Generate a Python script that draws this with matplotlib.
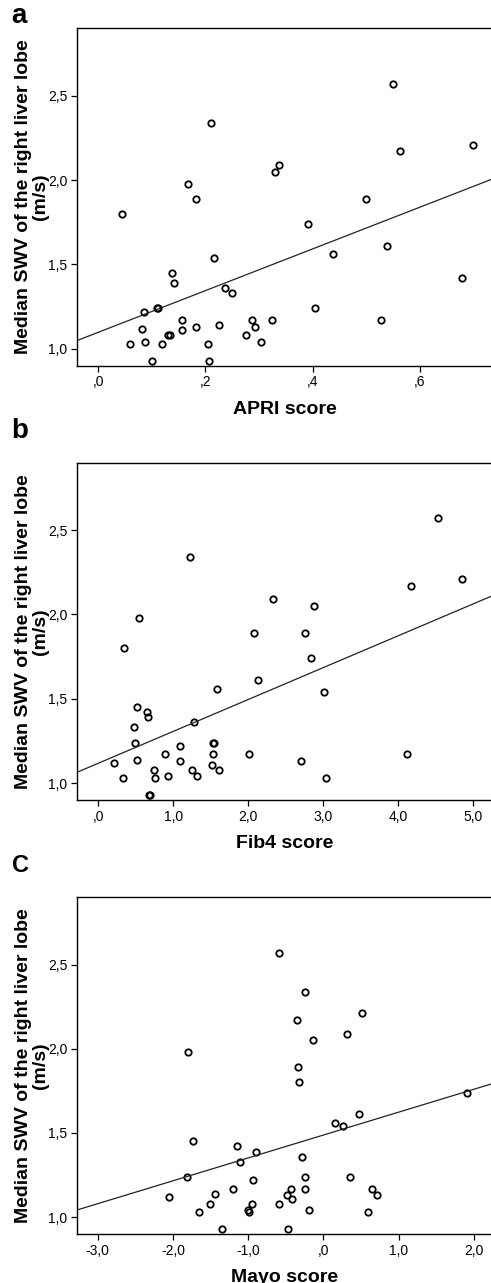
import numpy as np
import matplotlib
matplotlib.use("Agg")
import matplotlib.pyplot as plt

plt.rcParams['font.family'] = ['Liberation Sans', 'DejaVu Sans']

# Общая ось Y: медианная скорость сдвиговой волны (м/с)
y_ticks = [1.0, 1.5, 2.0, 2.5]
y_tick_labels = ["1,0", "1,5", "2,0", "2,5"]
y_lim = (0.9, 2.9)

# --- Панель a: APRI ---
apri_x = [0.045, 0.059, 0.081, 0.086, 0.088, 0.101, 0.110, 0.112, 0.119, 0.131, 0.134,
          0.137, 0.142, 0.157, 0.157, 0.167, 0.182, 0.183, 0.205, 0.206, 0.210, 0.215,
          0.226, 0.236, 0.249, 0.276, 0.286, 0.293, 0.303, 0.324, 0.330, 0.338, 0.392,
          0.404, 0.437, 0.499, 0.527, 0.539, 0.549, 0.563, 0.678, 0.700]
apri_y = [1.80, 1.03, 1.12, 1.22, 1.04, 0.93, 1.24, 1.24, 1.03, 1.08, 1.08,
          1.45, 1.39, 1.17, 1.11, 1.98, 1.89, 1.13, 1.03, 0.93, 2.34, 1.54,
          1.14, 1.36, 1.33, 1.08, 1.17, 1.13, 1.04, 1.17, 2.05, 2.09, 1.74,
          1.24, 1.56, 1.89, 1.17, 1.61, 2.57, 2.17, 1.42, 2.21]
apri_fit = (1.098, 1.236)  # intercept, slope
apri_ticks = [0.0, 0.2, 0.4, 0.6]
apri_tick_labels = [",0", ",2", ",4", ",6"]
apri_lim = (-0.0397, 0.7364)

# --- Панель b: Fib4 ---
fib4_x = [0.213, 0.329, 0.338, 0.476, 0.484, 0.511, 0.520, 0.538, 0.644, 0.658, 0.671,
          0.684, 0.742, 0.760, 0.889, 0.924, 1.084, 1.084, 1.227, 1.253, 1.271, 1.316,
          1.520, 1.524, 1.524, 1.547, 1.578, 1.609, 2.004, 2.071, 2.133, 2.329, 2.707,
          2.751, 2.831, 2.880, 3.004, 3.036, 4.111, 4.169, 4.524, 4.849]
fib4_y = [1.12, 1.03, 1.80, 1.33, 1.24, 1.45, 1.14, 1.98, 1.42, 1.39, 0.93,
          0.93, 1.08, 1.03, 1.17, 1.04, 1.22, 1.13, 2.34, 1.08, 1.36, 1.04,
          1.11, 1.17, 1.24, 1.24, 1.56, 1.08, 1.17, 1.89, 1.61, 2.09, 1.13,
          1.89, 1.74, 2.05, 1.54, 1.03, 1.17, 2.17, 2.57, 2.21]
fib4_fit = (1.118, 0.189)
fib4_ticks = [0.0, 1.0, 2.0, 3.0, 4.0, 5.0]
fib4_tick_labels = [",0", "1,0", "2,0", "3,0", "4,0", "5,0"]
fib4_lim = (-0.284, 5.263)

# --- Панель C: Mayo ---
mayo_x = [-2.049, -1.819, -1.805, -1.735, -1.659, -1.513, -1.438, -1.345, -1.199, -1.146,
          -1.111, -1.009, -0.987, -0.951, -0.934, -0.894, -0.593, -0.588, -0.491, -0.478,
          -0.429, -0.425, -0.358, -0.345, -0.332, -0.292, -0.248, -0.248, -0.248, -0.186,
          -0.146, 0.159, 0.261, 0.314, 0.358, 0.473, 0.513, 0.593, 0.642, 0.717, 1.907]
mayo_y = [1.12, 1.24, 1.98, 1.45, 1.03, 1.08, 1.14, 0.93, 1.17, 1.42,
          1.33, 1.04, 1.03, 1.08, 1.22, 1.39, 2.57, 1.08, 1.13, 0.93,
          1.17, 1.11, 2.17, 1.89, 1.80, 1.36, 2.34, 1.24, 1.17, 1.04,
          2.05, 1.56, 1.54, 2.09, 1.24, 1.61, 2.21, 1.03, 1.17, 1.13, 1.74]
mayo_fit = (1.488, 0.136)
mayo_ticks = [-3.0, -2.0, -1.0, 0.0, 1.0, 2.0]
mayo_tick_labels = ["-3,0", "-2,0", "-1,0", ",0", "1,0", "2,0"]
mayo_lim = (-3.275, 2.252)

y_label = "Median SWV of the right liver lobe\n(m/s)"


def draw_panel(ax, x, y, fit, xlim, xticks, xtick_labels, xlabel):
    ax.plot(x, y, linestyle='none', marker='o', markersize=4.6,
            markerfacecolor='none', markeredgecolor='black', markeredgewidth=1.3)
    # линия регрессии по всей ширине осей
    xl = np.array(xlim)
    ax.plot(xl, fit[0] + fit[1] * xl, color='#222222', linewidth=0.9)

    ax.set_xlim(*xlim)
    ax.set_ylim(*y_lim)
    ax.set_xticks(xticks)
    ax.set_xticklabels(xtick_labels)
    ax.set_yticks(y_ticks)
    ax.set_yticklabels(y_tick_labels)
    ax.tick_params(direction='out', length=4, width=0.9, labelsize=10, pad=3)

    for side in ['left', 'top', 'bottom']:
        ax.spines[side].set_linewidth(1.0)
        ax.spines[side].set_color('black')
    ax.spines['right'].set_visible(False)

    ax.set_xlabel(xlabel, fontsize=14, fontweight='bold')
    ax.xaxis.set_label_coords(0.5, -0.104)
    ax.xaxis.label.set_va('top')
    ax.set_ylabel(y_label, fontsize=14, fontweight='bold', linespacing=1.0)
    ax.yaxis.set_label_coords(-0.068, 0.5)


fig = plt.figure(figsize=(4.91, 12.83), dpi=100)

W, H = 491.0, 1283.0
left_px, right_px = 77, 493
panels = [
    (28.3, 365.7, apri_x, apri_y, apri_fit, apri_lim, apri_ticks, apri_tick_labels, "APRI score"),
    (462.7, 800.0, fib4_x, fib4_y, fib4_fit, fib4_lim, fib4_ticks, fib4_tick_labels, "Fib4 score"),
    (897.3, 1234.0, mayo_x, mayo_y, mayo_fit, mayo_lim, mayo_ticks, mayo_tick_labels, "Mayo score"),
]
for top, bottom, x, y, fit, xlim, xt, xtl, xlabel in panels:
    ax = fig.add_axes([left_px / W, 1 - bottom / H, (right_px - left_px) / W, (bottom - top) / H])
    draw_panel(ax, x, y, fit, xlim, xt, xtl, xlabel)

# буквы панелей
fig.text(0.022, 1 - 23 / H, "a", fontsize=20, fontweight='bold')
fig.text(0.022, 1 - 438 / H, "b", fontsize=20, fontweight='bold')
fig.text(0.024, 1 - 872 / H, "C", fontsize=17, fontweight='bold')

fig.savefig("out.png", dpi=100)
